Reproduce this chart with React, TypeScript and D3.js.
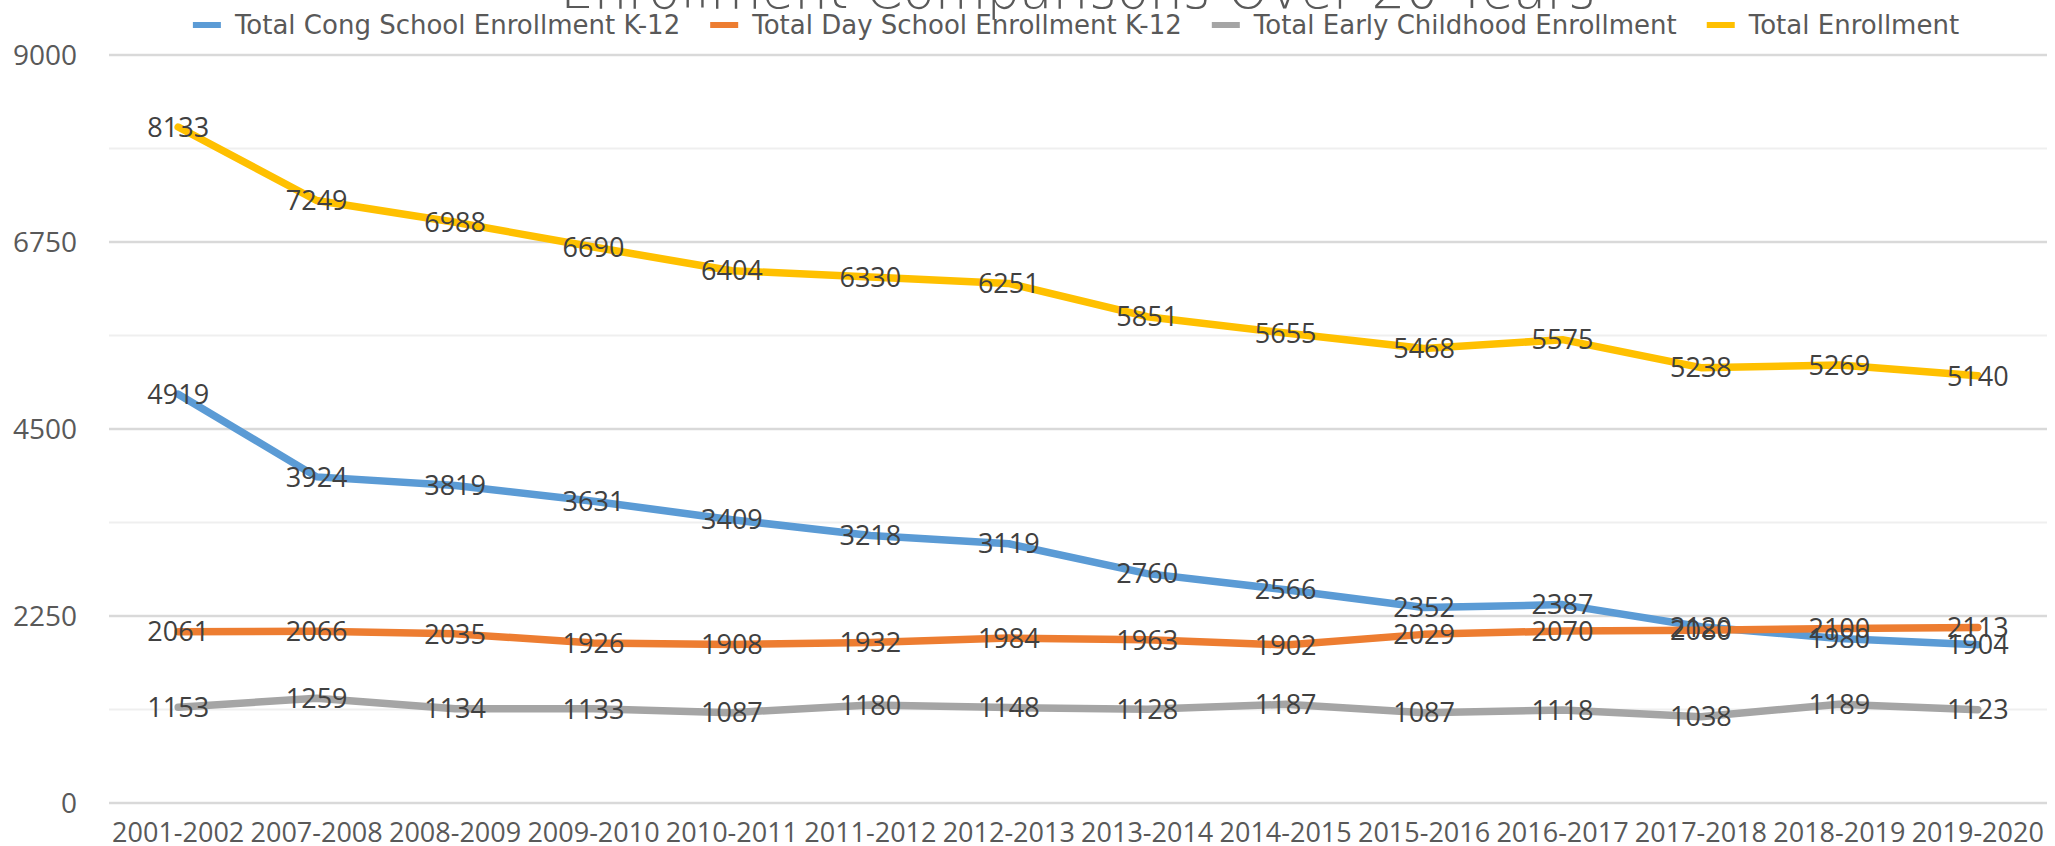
import React, { useRef, useEffect } from "react";
import * as d3 from "d3";

// School years on the x axis
const years = [
  "2001-2002", "2007-2008", "2008-2009", "2009-2010", "2010-2011", "2011-2012", "2012-2013",
  "2013-2014", "2014-2015", "2015-2016", "2016-2017", "2017-2018", "2018-2019", "2019-2020",
];

const congSchool = [4919, 3924, 3819, 3631, 3409, 3218, 3119, 2760, 2566, 2352, 2387, 2120, 1980, 1904];
const daySchool = [2061, 2066, 2035, 1926, 1908, 1932, 1984, 1963, 1902, 2029, 2070, 2080, 2100, 2113];
const earlyChildhood = [1153, 1259, 1134, 1133, 1087, 1180, 1148, 1128, 1187, 1087, 1118, 1038, 1189, 1123];
const totalEnrollment = [8133, 7249, 6988, 6690, 6404, 6330, 6251, 5851, 5655, 5468, 5575, 5238, 5269, 5140];

const seriesNames = [
  "Total Cong School Enrollment K-12",
  "Total Day School Enrollment K-12",
  "Total Early Childhood Enrollment",
  "Total Enrollment",
];

const majorTicks = [0, 2250, 4500, 6750, 9000];
const minorTicks = [1125, 3375, 5625, 7875];

const title = "Enrollment Comparisons Over 20 Years";

const W = 2055;
const H = 846;

export default function App() {
  const svgRef = useRef<SVGSVGElement>(null);

  useEffect(() => {
    if (!svgRef.current) return;
    const svg = d3.select(svgRef.current);
    svg.selectAll("*").remove();

    const margin = { top: 55, right: 8, bottom: 43, left: 109 };
    const innerH = H - margin.top - margin.bottom;
    const plotW = 1938;

    const colors = ["#5B9BD5", "#ED7D31", "#A5A5A5", "#FFC000"];
    const series = [congSchool, daySchool, earlyChildhood, totalEnrollment];

    const x = d3.scaleBand().domain(years).range([0, plotW]).padding(0);
    const y = d3.scaleLinear().domain([0, 9000]).range([innerH, 0]);

    const g = svg.append("g").attr("transform", `translate(${margin.left},${margin.top})`);

    // minor gridlines
    g.selectAll(".minor")
      .data(minorTicks)
      .enter()
      .append("line")
      .attr("x1", 0)
      .attr("x2", plotW)
      .attr("y1", d => y(d))
      .attr("y2", d => y(d))
      .attr("stroke", "#efefef")
      .attr("stroke-width", 2);

    // major gridlines
    g.selectAll(".major")
      .data(majorTicks)
      .enter()
      .append("line")
      .attr("x1", 0)
      .attr("x2", plotW)
      .attr("y1", d => y(d))
      .attr("y2", d => y(d))
      .attr("stroke", "#d9d9d9")
      .attr("stroke-width", 2.5);

    // y tick labels
    g.selectAll(".ylab")
      .data(majorTicks)
      .enter()
      .append("text")
      .attr("x", -32)
      .attr("y", d => y(d))
      .attr("dy", "0.35em")
      .attr("text-anchor", "end")
      .attr("font-family", "'Open Sans', sans-serif")
      .attr("font-size", 28)
      .attr("fill", "#595959")
      .text(d => d);

    // x tick labels
    g.selectAll(".xlab")
      .data(years)
      .enter()
      .append("text")
      .attr("x", d => (x(d) || 0) + x.bandwidth() / 2)
      .attr("y", innerH + 39)
      .attr("text-anchor", "middle")
      .attr("font-family", "'Open Sans', sans-serif")
      .attr("font-size", 27)
      .attr("fill", "#595959")
      .text(d => d);

    const line = d3.line<number>()
      .x((_, i) => (x(years[i]) || 0) + x.bandwidth() / 2)
      .y(d => y(d));

    series.forEach((s, k) => {
      g.append("path")
        .datum(s)
        .attr("fill", "none")
        .attr("stroke", colors[k])
        .attr("stroke-width", 7.5)
        .attr("stroke-linecap", "round")
        .attr("stroke-linejoin", "round")
        .attr("d", line);
    });

    // data labels on top of every line
    series.forEach(s => {
      g.selectAll(null)
        .data(s)
        .enter()
        .append("text")
        .attr("x", (_, i) => (x(years[i]) || 0) + x.bandwidth() / 2)
        .attr("y", d => y(d))
        .attr("dy", "0.36em")
        .attr("text-anchor", "middle")
        .attr("font-family", "'Open Sans', sans-serif")
        .attr("font-size", 27)
        .attr("fill", "#404040")
        .text(d => d);
    });

    // title (mostly cut off at the top)
    svg.append("text")
      .attr("x", 1078)
      .attr("y", 8)
      .attr("text-anchor", "middle")
      .attr("font-family", "'DejaVu Sans', sans-serif")
      .attr("font-weight", 200)
      .attr("font-size", 53)
      .attr("fill", "#595959")
      .text(title);

    // legend, centred over the plot
    const legend = svg.append("g");
    const items = seriesNames.map((name, k) => {
      const t = legend.append("text")
        .attr("font-family", "'DejaVu Sans', sans-serif")
        .attr("font-size", 26)
        .attr("fill", "#595959")
        .attr("y", 34)
        .text(name);
      return { t, w: (t.node() as SVGTextElement).getComputedTextLength(), k };
    });
    const markW = 28, markGap = 14, itemGap = 30;
    const total = d3.sum(items, d => markW + markGap + d.w) + itemGap * (items.length - 1);
    let cx = 1076 - total / 2;
    items.forEach(it => {
      legend.append("line")
        .attr("x1", cx)
        .attr("x2", cx + markW)
        .attr("y1", 25)
        .attr("y2", 25)
        .attr("stroke", colors[it.k])
        .attr("stroke-width", 6);
      it.t.attr("x", cx + markW + markGap);
      cx += markW + markGap + it.w + itemGap;
    });
  }, []);

  return (
    <div style={{ position: "absolute", left: 0, top: 0, background: "#fff" }}>
      <svg ref={svgRef} width={W} height={H} style={{ display: "block" }} />
    </div>
  );
}
